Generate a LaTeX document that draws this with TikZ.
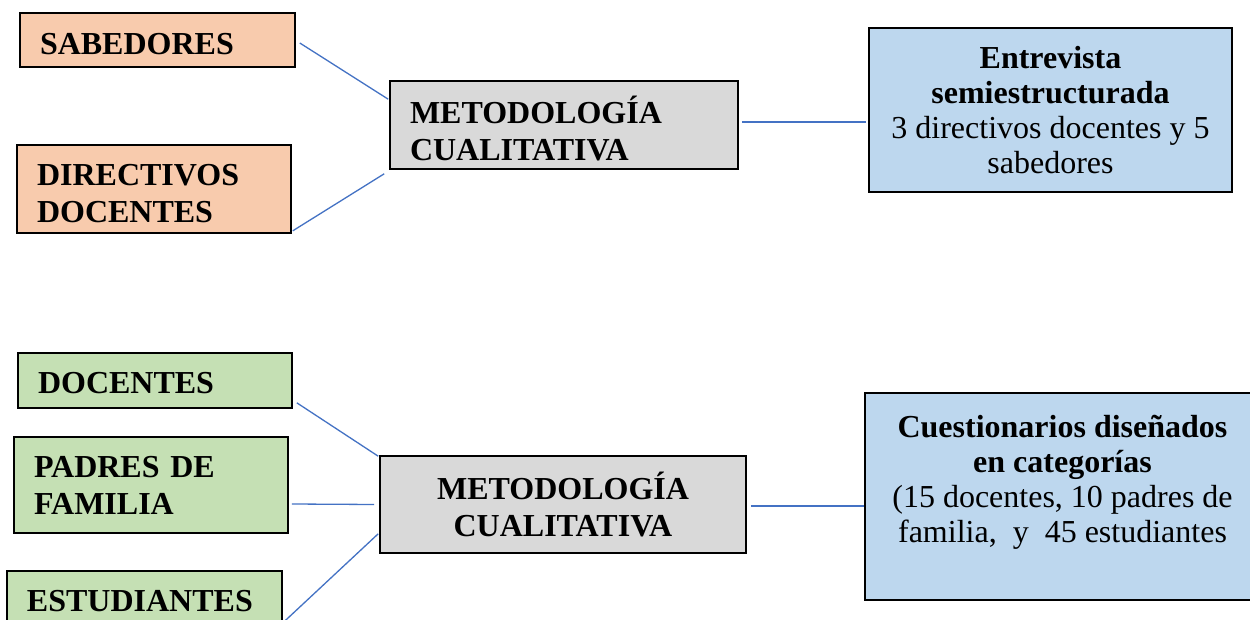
\documentclass[tikz,border=0pt]{standalone}
\usepackage{fontspec}
\setmainfont{Liberation Serif}
\definecolor{orangefill}{HTML}{F8CBAD}
\definecolor{greenfill}{HTML}{C5E0B4}
\definecolor{grayfill}{HTML}{D9D9D9}
\definecolor{bluefill}{HTML}{BDD7EE}
\definecolor{linkblue}{HTML}{4472C4}
\tikzset{
  box/.style={draw=black, line width=1.6pt, rectangle, inner ysep=0pt,
    font=\fontsize{32}{37}\selectfont},
  leftbox/.style={box, inner xsep=20pt, align=left, font=\fontsize{32}{37}\selectfont\bfseries},
  centerbox/.style={box, inner xsep=4pt, align=center},
  bluebox/.style={centerbox, fill=bluefill, font=\fontsize{32}{35}\selectfont},
  lowered/.style={execute at begin node={\rule{0pt}{#1}}},
  link/.style={draw=linkblue, line width=1.3pt}
}
\begin{document}
\begin{tikzpicture}[x=1pt,y=-1pt]
\clip (0,0) rectangle (1250,620);
\fill[white] (0,0) rectangle (1250,620);
% top group
\node[leftbox, fill=orangefill, text width=235pt, minimum height=54pt, lowered=29pt] (sab) at (157.5,40) {SABEDORES};
\node[leftbox, fill=orangefill, text width=234pt, minimum height=88pt, lowered=30pt] (dir) at (154,189) {DIRECTIVOS\\DOCENTES};
\node[leftbox, fill=grayfill, text width=308pt, minimum height=88pt, lowered=34pt] (met1) at (564,125) {METODOLOGÍA\\CUALITATIVA};
\node[bluebox, minimum width=363pt, minimum height=164pt] (ent) at (1050.5,110)
  {\textbf{Entrevista}\\\textbf{semiestructurada}\\3 directivos docentes y 5\\sabedores};
% bottom group
\node[leftbox, fill=greenfill, text width=234pt, minimum height=55pt, lowered=27pt] (doc) at (155,380.5) {DOCENTES};
\node[leftbox, fill=greenfill, text width=234pt, minimum height=96pt] (pad) at (151,485) {PADRES DE\\FAMILIA};
\node[leftbox, fill=greenfill, text width=235pt, minimum height=60pt] (est) at (144.5,601) {ESTUDIANTES};
\node[centerbox, fill=grayfill, minimum width=366pt, minimum height=97pt, font=\fontsize{32}{37}\selectfont\bfseries] (met2) at (563,504.5) {METODOLOGÍA\\CUALITATIVA};
\node[bluebox, minimum width=395pt, minimum height=207pt] (cue) at (1062.5,496.5)
  {\textbf{Cuestionarios diseñados}\\\textbf{en categorías}\\(15 docentes, 10 padres de\\familia,\ \ y\ \ 45 estudiantes\\\mbox{}};
% connectors
\draw[link] ([xshift=4pt,yshift=-3pt]sab.east) -- ([xshift=-1pt,yshift=-19pt]met1.north west);
\draw[link] ([xshift=1pt,yshift=3pt]dir.south east) -- ([xshift=-5pt,yshift=-4pt]met1.south west);
\draw[link] ([xshift=3pt,yshift=3pt]met1.east) -- ([xshift=-2pt,yshift=-12pt]ent.west);
\draw[link] ([xshift=4pt,yshift=6pt]doc.south east) -- ([xshift=-1pt,yshift=-1pt]met2.north west);
\draw[link] ([xshift=3pt,yshift=-19pt]pad.east) -- ([xshift=-5pt,yshift=0pt]met2.west);
\draw[link] ([xshift=2pt,yshift=-20pt]est.east) -- ([xshift=-1pt,yshift=20pt]met2.south west);
\draw[link] ([xshift=4pt,yshift=-1.5pt]met2.east) -- ([xshift=0pt,yshift=-9.5pt]cue.west);
\end{tikzpicture}
\end{document}
